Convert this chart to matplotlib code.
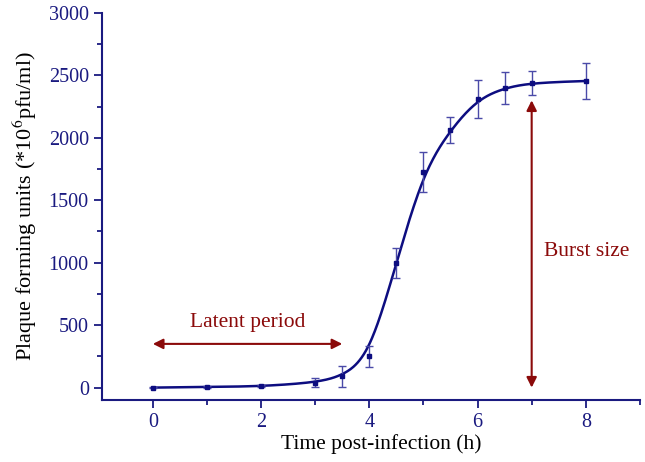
import numpy as np
import matplotlib
matplotlib.use("Agg")
import matplotlib.pyplot as plt
from matplotlib.ticker import MultipleLocator

plt.rcParams['font.family'] = ['Liberation Serif', 'DejaVu Serif']
plt.rcParams['mathtext.fontset'] = 'stix'

time_h = [0, 1, 2, 3, 3.5, 4, 4.5, 5, 5.5, 6, 6.5, 7, 8]
pfu = [0, 5, 10, 40, 90, 250, 1000, 1730, 2065, 2310, 2400, 2440, 2455]
pfu_err = [5, 5, 8, 35, 85, 85, 120, 160, 105, 155, 127, 97, 145]

# Smooth B-spline connection using the data points as control points
cx = np.concatenate([[time_h[0]] * 2, time_h, [time_h[-1]] * 2]).astype(float)
cy = np.concatenate([[pfu[0]] * 2, pfu, [pfu[-1]] * 2]).astype(float)
t = np.linspace(0, 1, 40)
b0 = (1 - t) ** 3 / 6
b1 = (3 * t ** 3 - 6 * t ** 2 + 4) / 6
b2 = (-3 * t ** 3 + 3 * t ** 2 + 3 * t + 1) / 6
b3 = t ** 3 / 6
xs, ys = [], []
for i in range(len(cx) - 3):
    xs.append(b0 * cx[i] + b1 * cx[i + 1] + b2 * cx[i + 2] + b3 * cx[i + 3])
    ys.append(b0 * cy[i] + b1 * cy[i + 1] + b2 * cy[i + 2] + b3 * cy[i + 3])
xf = np.concatenate(xs)
yf = np.concatenate(ys)

navy = '#1a1a80'
line_c = '#0d0d80'
red = '#8b0a0a'

fig = plt.figure(figsize=(6.45, 4.62), dpi=100)
ax = fig.add_axes([0.1581, 0.134, 0.834, 0.838])

ax.plot(xf, yf, color=line_c, lw=1.8, zorder=3)
ax.errorbar(time_h, pfu, yerr=pfu_err, fmt='s', ms=3.5, color=line_c, ecolor='#4a4aa8',
            elinewidth=1.0, capsize=3, capthick=1.0, zorder=4)

ax.set_xlim(-0.94, 9.0)
ax.set_ylim(-100, 3000)
ax.xaxis.set_major_locator(MultipleLocator(2))
ax.xaxis.set_minor_locator(MultipleLocator(1))
ax.yaxis.set_major_locator(MultipleLocator(500))
ax.yaxis.set_minor_locator(MultipleLocator(250))

for s in ['top', 'right']:
    ax.spines[s].set_visible(False)
for s in ['left', 'bottom']:
    ax.spines[s].set_color(navy)
    ax.spines[s].set_linewidth(1.5)
ax.tick_params(which='both', direction='out', colors=navy, labelsize=14.5, width=1.3)
ax.tick_params(which='major', length=6)
ax.tick_params(which='minor', length=3.5)

ax.set_xlabel('Time post-infection (h)', fontsize=15.5, color='black')
ax.xaxis.set_label_coords(0.519, -0.088)
ax.set_ylabel(r'Plaque forming units (*10$^{6}$pfu/ml)', fontsize=16, color='black', labelpad=7)

# Latent period arrow
ax.annotate('', xy=(0, 350), xytext=(3.5, 350),
            arrowprops=dict(arrowstyle='<|-|>', color=red, lw=1.5, mutation_scale=15, shrinkA=0, shrinkB=0))
ax.text(1.75, 520, 'Latent period', color=red, fontsize=15.5, ha='center', va='center')

# Burst size arrow
ax.annotate('', xy=(7, 0), xytext=(7, 2300),
            arrowprops=dict(arrowstyle='<|-|>', color=red, lw=1.5, mutation_scale=15, shrinkA=0, shrinkB=0))
ax.text(7.22, 1090, 'Burst size', color=red, fontsize=15.5, ha='left', va='center')

fig.savefig('out.png', dpi=100)
